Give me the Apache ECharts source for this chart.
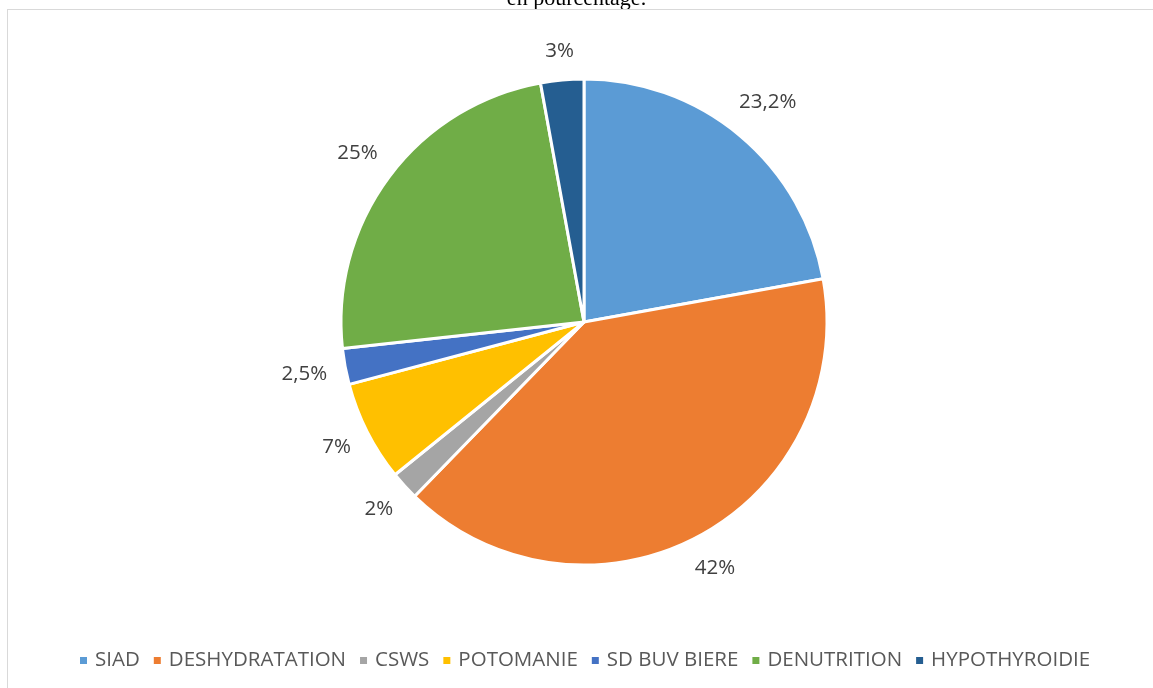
<!DOCTYPE html>
<html>
<head>
<meta charset="utf-8">
<script src="https://cdn.jsdelivr.net/npm/echarts@6/dist/echarts.min.js"></script>
<style>
  html, body { margin: 0; padding: 0; background: #fff; }
  #main { width: 1153px; height: 688px; position: relative; }
  .frame {
    position: absolute; left: 7px; top: 9px; right: 0; bottom: 0;
    border-left: 1px solid #d9d9d9; border-top: 1px solid #d9d9d9;
    pointer-events: none;
  }
</style>
</head>
<body>
<div id="main"></div>
<script>
// catégories et valeurs (en %)
var categories = ["SIAD", "DESHYDRATATION", "CSWS", "POTOMANIE", "SD BUV BIERE", "DENUTRITION", "HYPOTHYROIDIE"];
var values = [23.2, 42, 2, 7, 2.5, 25, 3];
var labels = ["23,2%", "42%", "2%", "7%", "2,5%", "25%", "3%"];
var colors = ["#5B9BD5", "#ED7D31", "#A5A5A5", "#FFC000", "#4472C4", "#70AD47", "#255E91"];

var myChart = echarts.init(document.getElementById("main"));
var data = categories.map(function (c, i) {
  return { name: c, value: values[i], itemStyle: { color: colors[i] } };
});

// étiquette placée comme dans Excel : le bord de la boîte à distance fixe du disque
function placeLabel(params) {
  var pts = params.labelLinePoints;
  if (!pts || pts.length < 2) return { align: "center", verticalAlign: "middle" };
  var ux = pts[1][0] - pts[0][0], uy = pts[1][1] - pts[0][1];
  var len = Math.sqrt(ux * ux + uy * uy) || 1;
  ux /= len; uy /= len;
  var w = params.labelRect.width, h = params.labelRect.height;
  var ext = Math.abs(ux) * w / 2 + Math.abs(uy) * h / 2;
  return {
    x: pts[pts.length - 1][0] + ux * ext,
    y: pts[pts.length - 1][1] + uy * ext,
    align: "center",
    verticalAlign: "middle"
  };
}

var option = {
  backgroundColor: "#fff",
  animation: false,
  title: {
    text: "en pourcentage.",
    left: "center",
    top: -17,
    textStyle: { fontFamily: "Liberation Serif", fontSize: 22, fontWeight: "normal", color: "#000" }
  },
  legend: {
    bottom: 12,
    left: 73,
    icon: "rect",
    itemWidth: 9,
    itemHeight: 9,
    itemGap: 12,
    textStyle: { fontFamily: "Open Sans", fontSize: 20.5, color: "#595959", padding: [0, 0, 0, 2] },
    data: categories
  },
  series: [
    {
      type: "pie",
      center: [584, 322],
      radius: 243,
      startAngle: 90,
      clockwise: true,
      avoidLabelOverlap: false,
      itemStyle: { borderColor: "#fff", borderWidth: 3 },
      label: {
        position: "outside",
        formatter: function (p) { return labels[p.dataIndex]; },
        fontFamily: "Open Sans",
        fontSize: 20.5,
        color: "#404040",
        distanceToLabelLine: 0
      },
      labelLine: { show: true, length: 17, length2: 0, lineStyle: { opacity: 0 } },
      labelLayout: placeLabel,
      emphasis: { disabled: true },
      data: data
    }
  ]
};
myChart.setOption(option);
</script>
<div class="frame" style="display:none"></div>
<script>
  // cadre gris clair (haut et gauche) comme dans l'original
  var f = document.querySelector(".frame");
  document.getElementById("main").appendChild(f);
  f.style.display = "block";
</script>
</body>
</html>
